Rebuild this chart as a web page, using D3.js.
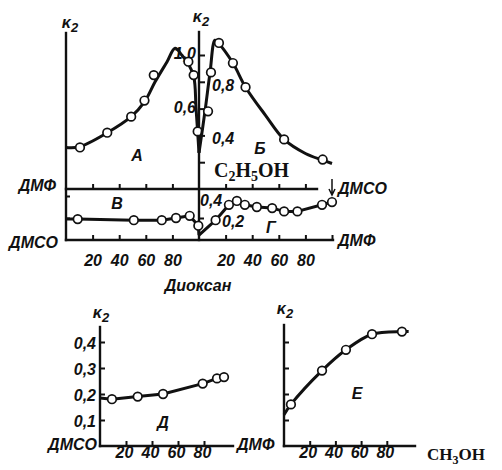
<!DOCTYPE html>
<html>
<head>
<meta charset="utf-8">
<script src="https://cdn.jsdelivr.net/npm/d3@7"></script>
<style>
  body { margin: 0; background: #fff; }
  svg { display: block; }
  .lab { font-family: "Liberation Sans", Arial, sans-serif; font-style: italic; font-weight: bold; font-size: 16px; fill: #111; }
  .chem { font-family: "Liberation Serif", "Times New Roman", serif; font-weight: bold; fill: #111; }
  .axis text { font-family: "Liberation Sans", Arial, sans-serif; font-style: italic; font-weight: bold; font-size: 16px; fill: #111; }
  .axis line { stroke: #111; stroke-width: 2; }
</style>
</head>
<body>
<svg id="chart" width="502" height="470"></svg>
<script>
// Composition ticks (mol %) and κ2 tick values
const pctTicks = [20, 40, 60, 80];
const topKTicks = [0.2, 0.4, 0.6, 0.8, 1.0];
const topKLabelsLeft = [1.0, 0.6];
const topKLabelsRight = [0.8, 0.4];
const lowKTicks = [0.2, 0.4];
const lowKLabels = [0.4, 0.2];
const botKTicks = [0.1, 0.2, 0.3, 0.4];

// А: DMF / dioxane — smoothed curve and measured points
const curveA = [[0,0.31],[10,0.315],[31,0.42],[49,0.54],[59,0.65],[67,0.80],[76,0.95],[82,1.05],[87,1.00],[91,0.95],[96,0.84],[97.8,0.60],[100,0.27]];
const pointsA = [[10.5,0.31],[31,0.42],[49,0.54],[59,0.66],[66,0.85],[92,0.95],[96,0.85],[99,0.43]];

// Б: DMF / C2H5OH
const curveB = [[0,0.27],[4.5,0.58],[8.3,0.87],[12,1.11],[14.5,1.09],[25.5,0.94],[35,0.76],[50,0.55],[64,0.37],[80,0.265],[93,0.215],[100,0.19]];
const pointsB = [[6.8,0.58],[9,0.87],[15,1.09],[25.5,0.94],[35,0.76],[64,0.37],[93,0.22]];

// Where А and Б meet at pure DMF the two branches merge into a solid wedge
const wedgeA = [[98.8,0.45],[100,0.27]];
const wedgeB = [[0,0.27],[2.6,0.45]];

// В: DMSO / dioxane
const lineV = [[0,0.19],[8.8,0.19],[51,0.18],[72,0.18],[82.7,0.20],[93,0.22],[99.5,0.13],[100,0.045]];
const pointsV = [[8.8,0.19],[51,0.18],[72,0.18],[82.7,0.20],[93,0.22],[99.5,0.13]];

// Г: DMSO / C2H5OH
const lineG = [[0,0.045],[12.5,0.18],[22.5,0.32],[28.5,0.355],[34.5,0.32],[43.5,0.30],[55,0.29],[64,0.26],[74,0.26],[92.5,0.32],[100,0.345]];
const pointsG = [[12.5,0.18],[22.5,0.32],[28.5,0.355],[34.5,0.32],[43.5,0.30],[55,0.29],[64,0.26],[74,0.26],[92.5,0.32],[100,0.345]];

// Д: DMSO / DMF
const lineD = [[0,0.185],[9.2,0.18],[29,0.19],[48.5,0.20],[79,0.24],[90,0.26],[95.4,0.265]];
const pointsD = [[9.2,0.18],[29,0.19],[48.5,0.20],[79,0.24],[90,0.26],[95.4,0.265]];

// Е: DMF / CH3OH
const lineE = [[0,0.12],[5.4,0.16],[29.6,0.29],[48.2,0.37],[68.5,0.43],[91.8,0.44],[97,0.44]];
const pointsE = [[5.4,0.16],[29.6,0.29],[48.2,0.37],[68.5,0.43],[91.8,0.44]];

const svg = d3.select("#chart");
const ink = "#111";
const fmt = d => d3.format(".1f")(d).replace(".", ",");

// Scales
const xA = d3.scaleLinear([0, 100], [66, 199]);
const xB = d3.scaleLinear([0, 100], [199, 332]);
const yTop = d3.scaleLinear([0, 1], [189, 55]);
const yLow = d3.scaleLinear([0, 0.4], [240, 196]);
const xD = d3.scaleLinear([0, 100], [100, 230]);
const xE = d3.scaleLinear([0, 100], [284, 412.5]);
const yBot = d3.scaleLinear([0, 0.4], [446, 342]);

function rule(x1, y1, x2, y2, w = 2.4) {
  svg.append("line").attr("x1", x1).attr("y1", y1).attr("x2", x2).attr("y2", y2)
    .attr("stroke", ink).attr("stroke-width", w).attr("stroke-linecap", "square");
}
function axis(gen, tx, ty) {
  const g = svg.append("g").attr("class", "axis").attr("transform", `translate(${tx},${ty})`).call(gen);
  g.select(".domain").remove();
  return g;
}
function text(str, x, y, anchor = "start", cls = "lab") {
  return svg.append("text").attr("class", cls).attr("x", x).attr("y", y).attr("text-anchor", anchor).text(str);
}
function kappa(x, y) {
  const t = svg.append("text").attr("class", "lab").attr("x", x).attr("y", y).attr("text-anchor", "middle");
  t.append("tspan").text("κ");
  t.append("tspan").attr("dy", 4).attr("font-size", 13).text("2");
}
function series(curve, pts, xs, ys, curveType) {
  svg.append("path").datum(curve)
    .attr("d", d3.line().x(d => xs(d[0])).y(d => ys(d[1])).curve(curveType))
    .attr("fill", "none").attr("stroke", ink).attr("stroke-width", 3).attr("stroke-linejoin", "round");
  svg.append("g").selectAll("circle").data(pts).join("circle")
    .attr("cx", d => xs(d[0])).attr("cy", d => ys(d[1])).attr("r", 4.3)
    .attr("fill", "#fff").attr("stroke", ink).attr("stroke-width", 1.7);
}

// ---------- Upper block: dioxane (left) and C2H5OH (right) ----------
rule(66, 33, 66, 240);
rule(199, 32, 199, 240);
rule(66, yTop(0), 317, yTop(0));
rule(66, yLow(0), 333, yLow(0));

axis(d3.axisBottom(xA).tickValues(pctTicks).tickSize(-5).tickFormat(""), 0, yTop(0));
axis(d3.axisBottom(xB).tickValues(pctTicks).tickSize(-5).tickFormat(""), 0, yTop(0));
axis(d3.axisBottom(xA).tickValues(pctTicks).tickSize(-5).tickPadding(15).tickSizeOuter(0), 0, yLow(0));
axis(d3.axisBottom(xB).tickValues(pctTicks.concat([100])).tickSize(-5).tickPadding(15)
  .tickFormat(d => d < 100 ? d : ""), 0, yLow(0));
axis(d3.axisRight(yTop).tickValues(topKTicks).tickSize(6).tickFormat(""), 199, 0);
axis(d3.axisRight(yLow).tickValues([0.2]).tickSize(5).tickFormat(""), 199, 0);
axis(d3.axisRight(yLow).tickValues(lowKTicks).tickSize(4).tickFormat(""), 66, 0);

topKLabelsLeft.forEach(v => text(fmt(v), 196, yTop(v) + 4, "end"));
topKLabelsRight.forEach(v => text(fmt(v), 212, yTop(v) + 9, "start"));
text(fmt(lowKLabels[0]), 200, yLow(lowKLabels[0]) + 10, "start");
text(fmt(lowKLabels[1]), 222, yLow(lowKLabels[1]) + 9, "start");

kappa(70, 28);
kappa(201, 22);
text("ДМФ", 56, 191, "end");
text("ДМСО", 58, 248, "end");
text("ДМСО", 338, 194);
text("ДМФ", 338, 246);
text("Диоксан", 198, 291, "middle");

// small arrow marking the DMSO end of curve Г
svg.append("path").attr("d", "M332,179 L332,194 M329,189 L332,195 L335,189")
  .attr("fill", "none").attr("stroke", ink).attr("stroke-width", 1.5);

const chem1 = svg.append("text").attr("class", "chem").attr("x", 214).attr("y", 177).attr("font-size", 20);
chem1.append("tspan").text("C");
chem1.append("tspan").attr("dy", 4).attr("font-size", 14).text("2");
chem1.append("tspan").attr("dy", -4).text("H");
chem1.append("tspan").attr("dy", 4).attr("font-size", 14).text("5");
chem1.append("tspan").attr("dy", -4).text("OH");

text("А", 137, 161, "middle");
text("Б", 260, 154, "middle");
text("В", 117, 209, "middle");
text("Г", 271, 233, "middle");

// solid wedge between the two branches near pure DMF
const wedgePts = wedgeA.map(d => [xA(d[0]), yTop(d[1])]).concat(wedgeB.map(d => [xB(d[0]), yTop(d[1])]));
svg.append("path").attr("d", d3.line()(wedgePts) + "Z").attr("fill", ink).attr("stroke", ink).attr("stroke-width", 1);

series(curveA, pointsA, xA, yTop, d3.curveCatmullRom.alpha(0.5));
series(curveB, pointsB, xB, yTop, d3.curveCatmullRom.alpha(0.5));
series(lineV, pointsV, xA, yLow, d3.curveLinear);
series(lineG, pointsG, xB, yLow, d3.curveLinear);

// ---------- Lower left: DMSO / DMF ----------
rule(100, 327, 100, 446);
rule(100, 446, 233, 446);
axis(d3.axisLeft(yBot).tickValues(botKTicks).tickSize(-5).tickPadding(4).tickFormat(fmt), 100, 0)
  .selectAll("text").attr("dy", "0.38em");
axis(d3.axisBottom(xD).tickValues(pctTicks).tickSize(-5).tickPadding(1), 0, 446)
  .selectAll("text").attr("dx", -2);
kappa(101, 318);
text("ДМСО", 97, 450, "end");
text("ДМФ", 237, 450);
text("Д", 163, 428, "middle");
series(lineD, pointsD, xD, yBot, d3.curveLinear);

// ---------- Lower right: DMF / CH3OH ----------
rule(284, 325, 284, 446);
rule(284, 446, 415, 446);
axis(d3.axisLeft(yBot).tickValues(botKTicks).tickSize(-5).tickFormat(""), 284, 0);
axis(d3.axisBottom(xE).tickValues(pctTicks).tickSize(-5).tickPadding(1), 0, 446)
  .selectAll("text").attr("dx", -2);
kappa(285, 314);
text("Е", 357, 399, "middle");
const chem2 = svg.append("text").attr("class", "chem").attr("x", 427).attr("y", 460).attr("font-size", 17);
chem2.append("tspan").text("CH");
chem2.append("tspan").attr("dy", 4).attr("font-size", 12).text("3");
chem2.append("tspan").attr("dy", -4).text("OH");
series(lineE, pointsE, xE, yBot, d3.curveCatmullRom.alpha(0.5));
</script>
</body>
</html>
